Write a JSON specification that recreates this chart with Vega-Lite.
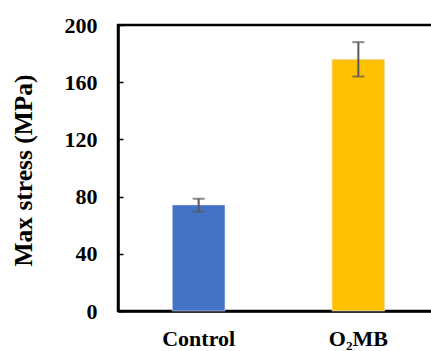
{
  "$schema": "https://vega.github.io/schema/vega-lite/v6.json",
  "autosize": {"type": "none"},
  "padding": {"left": 118, "top": 25, "right": 0, "bottom": 40},
  "width": 321,
  "height": 286,
  "background": "white",
  "config": {
    "view": {"stroke": "black", "strokeWidth": 2.5},
    "font": "'Liberation Serif', 'Times New Roman', serif"
  },
  "data": {
    "values": [
      {"group": "Control", "value": 74.2, "lo": 69.5, "hi": 78.5},
      {"group": "O₂MB", "value": 176, "lo": 164, "hi": 188}
    ]
  },
  "encoding": {
    "x": {
      "field": "group",
      "type": "nominal",
      "sort": null,
      "scale": {"paddingInner": 0.67, "paddingOuter": 0.34},
      "axis": {
        "title": null,
        "labelAngle": 0,
        "labelFont": "'Liberation Serif', 'Times New Roman', serif",
        "labelFontWeight": "bold",
        "labelFontSize": 22,
        "labelColor": "black",
        "labelPadding": 17,
        "ticks": false,
        "domainColor": "black",
        "domainWidth": 2.5
      }
    }
  },
  "layer": [
    {
      "mark": {"type": "bar", "stroke": "#dfe6f4", "strokeWidth": 0.6},
      "encoding": {
        "y": {
          "field": "value",
          "type": "quantitative",
          "scale": {"domain": [0, 200], "nice": false},
          "axis": {
            "values": [0, 40, 80, 120, 160, 200],
            "grid": false,
            "title": "Max stress (MPa)",
            "titleFont": "'Liberation Serif', 'Times New Roman', serif",
            "titleFontWeight": "bold",
            "titleFontSize": 25.5,
            "titleColor": "black",
            "titleAngle": -90,
            "titleBaseline": "middle",
            "titleAlign": "center",
            "titleX": -95,
            "titleY": 145,
            "labelFont": "'Liberation Serif', 'Times New Roman', serif",
            "labelFontWeight": "bold",
            "labelFontSize": 22,
            "labelColor": "black",
            "labelPadding": 26,
            "tickSize": -5,
            "tickWidth": 1.5,
            "tickColor": "black",
            "domainColor": "black",
            "domainWidth": 2.5
          }
        },
        "color": {
          "field": "group",
          "type": "nominal",
          "scale": {"range": ["#4472C4", "#FFC000"]},
          "legend": null
        }
      }
    },
    {
      "mark": {"type": "rule", "color": "#595959", "strokeWidth": 2},
      "encoding": {
        "y": {"field": "lo", "type": "quantitative"},
        "y2": {"field": "hi"}
      }
    },
    {
      "mark": {"type": "tick", "color": "#595959", "thickness": 2, "size": 12},
      "encoding": {"y": {"field": "lo", "type": "quantitative"}}
    },
    {
      "mark": {"type": "tick", "color": "#595959", "thickness": 2, "size": 12},
      "encoding": {"y": {"field": "hi", "type": "quantitative"}}
    }
  ]
}
